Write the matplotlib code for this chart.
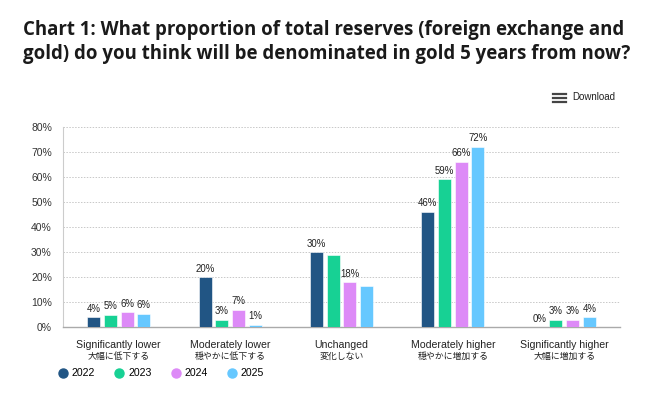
import numpy as np
import matplotlib.pyplot as plt
from matplotlib.lines import Line2D
from matplotlib.transforms import blended_transform_factory

# ── Data ──────────────────────────────────────────────────────
categories_en = ['Significantly lower', 'Moderately lower', 'Unchanged',
                 'Moderately higher', 'Significantly higher']
categories_jp = ['大幅に低下する', '穏やかに低下する', '変化しない',
                 '穏やかに増加する', '大幅に増加する']
years = ['2022', '2023', '2024', '2025']

v2022 = [4, 20, 30, 46, 0]
v2023 = [5, 3, 29, 59, 3]
v2024 = [6, 7, 18, 66, 3]
v2025 = [6, 1, 17, 72, 4]
# bar heights slightly differ from printed labels in a couple of spots
h2025 = [5.5, 1, 16.5, 72, 4]

# which value labels are printed in the original
show2022 = [True, True, True, True, True]
show2023 = [True, True, False, True, True]
show2024 = [True, True, True, True, True]
show2025 = [True, True, False, True, True]

colors = ['#215584', '#17d194', '#dd8af7', '#66c8ff']

W, H = 650, 395
fig = plt.figure(figsize=(W / 100, H / 100), dpi=100)
fig.patch.set_facecolor('white')

# axes box in pixel terms
left, right, top, bottom = 63, 620, 126.7, 327.3
ax = fig.add_axes([left / W, 1 - bottom / H, (right - left) / W, (bottom - top) / H])

x = np.arange(len(categories_en))
step, bw = 0.15, 0.117
offsets = [-1.5 * step, -0.5 * step, 0.5 * step, 1.5 * step]
heights = [v2022, v2023, v2024, h2025]
labels = [v2022, v2023, v2024, v2025]
shows = [show2022, show2023, show2024, show2025]

for i in range(4):
    bars = ax.bar(x + offsets[i], heights[i], width=bw, color=colors[i],
                  edgecolor='white', linewidth=0.4, zorder=3)
    for b, val, s in zip(bars, labels[i], shows[i]):
        if not s:
            continue
        ax.annotate(f'{val}%', (b.get_x() + b.get_width() / 2, b.get_height()),
                    xytext=(0, 2.5), textcoords='offset points',
                    ha='center', va='bottom', fontsize=6.9, color='#222222',
                    family='Liberation Sans', zorder=4)

ax.set_xlim(-0.5, 4.5)
ax.set_ylim(0, 80)
ax.set_yticks(np.arange(0, 81, 10))
ax.set_yticklabels([f'{t}%' for t in range(0, 81, 10)],
                   fontsize=7.5, color='#333333', family='Liberation Sans')
ax.set_xticks([])
ax.tick_params(axis='y', length=0, pad=8)
ax.grid(axis='y', color='#c8c8c8', linestyle=(0, (1.5, 1.5)), linewidth=0.7, zorder=0)
for sp in ['top', 'right']:
    ax.spines[sp].set_visible(False)
ax.spines['left'].set_color('#cccccc')
ax.spines['left'].set_linewidth(0.8)
ax.spines['bottom'].set_color('#aaaaaa')
ax.spines['bottom'].set_linewidth(1)

# category labels (english + japanese)
tr = blended_transform_factory(ax.transData, fig.transFigure)
for xi, en, jp in zip(x, categories_en, categories_jp):
    ax.text(xi, 1 - 345 / H, en, transform=tr, ha='center', va='center',
            fontsize=7.6, color='#222222', family='Liberation Sans')
    ax.text(xi, 1 - 356.5 / H, jp, transform=tr, ha='center', va='center',
            fontsize=6.4, color='#222222', family=['Noto Sans CJK JP', 'DejaVu Sans'])

# ── Title ─────────────────────────────────────────────────────
fig.text(23 / W, 1 - 20 / H,
         'Chart 1: What proportion of total reserves (foreign exchange and\n'
         'gold) do you think will be denominated in gold 5 years from now?',
         ha='left', va='top', fontsize=13.4, fontweight='bold',
         family='Open Sans', color='#1a1a1a', linespacing=1.3)

# ── Download button ───────────────────────────────────────────
for yy in [94, 97.8, 101.6]:
    fig.add_artist(Line2D([553 / W, 566 / W], [1 - yy / H, 1 - yy / H],
                          color='#444444', linewidth=1.6,
                          transform=fig.transFigure))
fig.text(572 / W, 1 - 97.5 / H, 'Download', ha='left', va='center',
         fontsize=7, color='#222222', family='Liberation Sans')

# ── Legend ────────────────────────────────────────────────────
handles = [Line2D([0], [0], marker='o', linestyle='', markersize=6.5,
                  markerfacecolor=c, markeredgecolor=c) for c in colors]
fig.legend(handles, years, loc='center left',
           bbox_to_anchor=(59 / W, 1 - 373.5 / H), ncol=4, frameon=False,
           handlelength=0.7, handletextpad=0.5, columnspacing=1.93,
           borderpad=0, borderaxespad=0,
           prop={'family': 'Liberation Sans', 'size': 7.6})

fig.savefig('out.png', dpi=100, facecolor='white')
